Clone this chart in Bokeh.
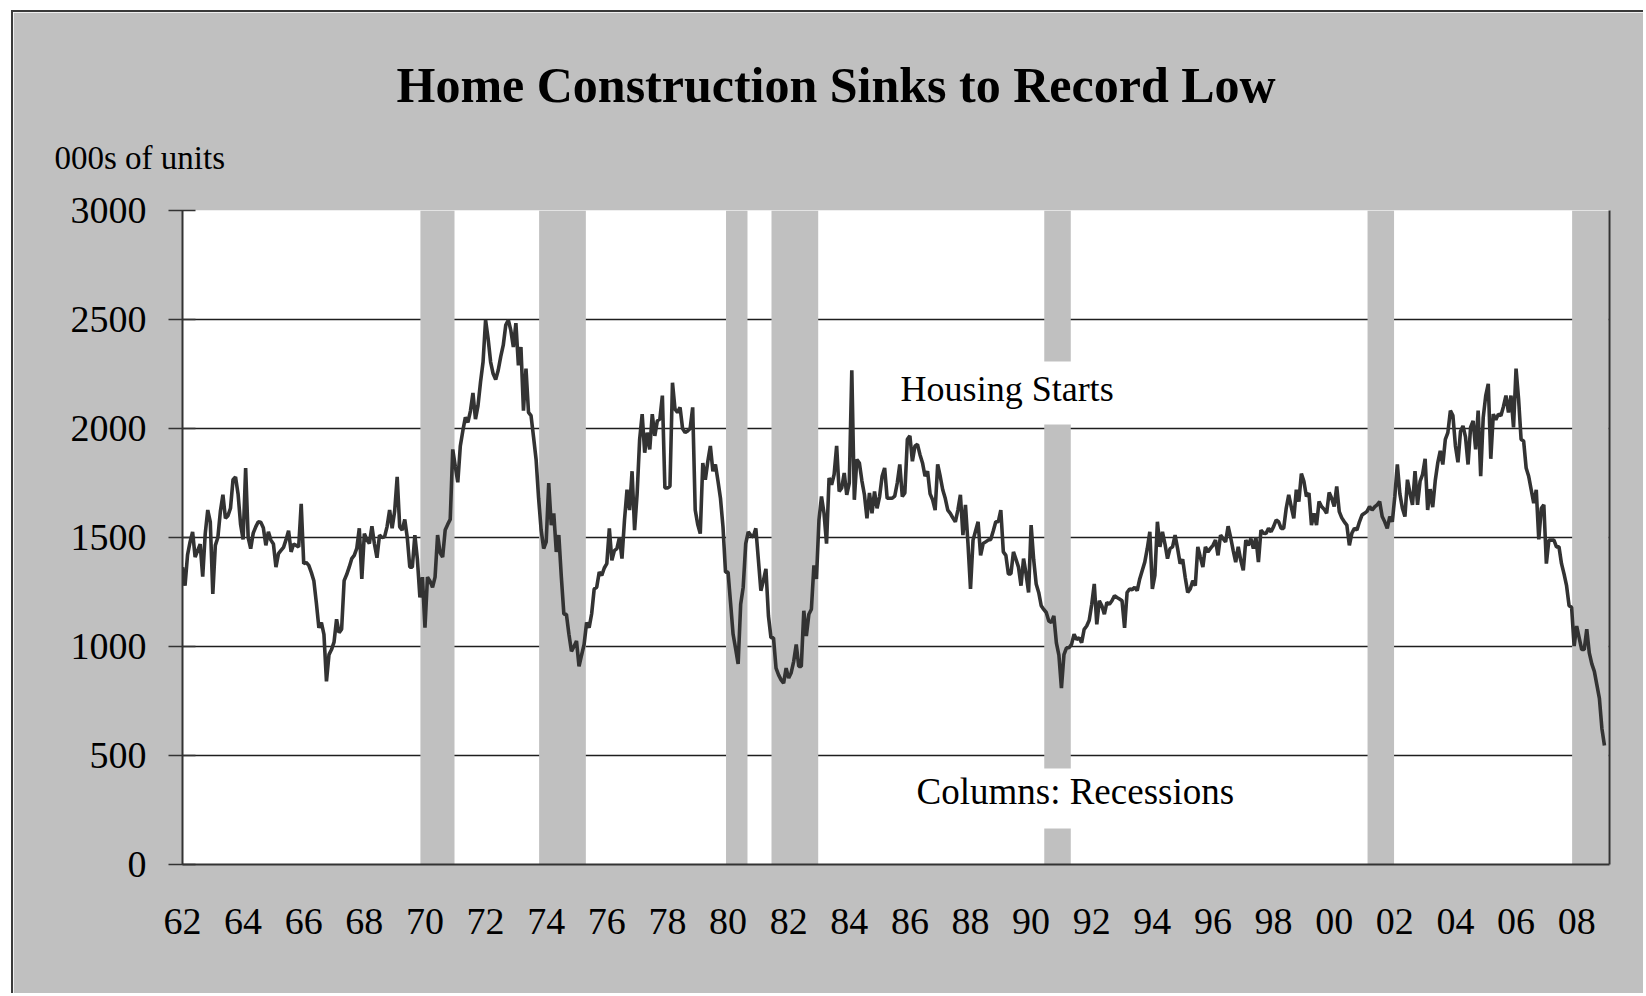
from bokeh.plotting import figure
from bokeh.models import Range1d, FixedTicker, LinearAxis, Label, Title, ColumnDataSource, BoxAnnotation
from bokeh.embed import file_html
from bokeh.resources import INLINE

# ---------------- data ----------------
first_year = 1962
# Housing starts, thousands of units (SAAR), monthly Jan 1962 .. Dec 2008
housing_starts = [
    1364, 1279, 1420, 1480, 1526, 1410, 1440, 1470, 1321, 1518, 1626, 1572,  # 1962
    1241, 1464, 1500, 1620, 1696, 1588, 1600, 1634, 1765, 1778, 1700, 1560,  # 1963
    1491, 1819, 1500, 1449, 1520, 1549, 1572, 1570, 1545, 1464, 1526, 1488,  # 1964
    1470, 1364, 1426, 1441, 1455, 1490, 1531, 1434, 1470, 1464, 1457, 1654,  # 1965
    1380, 1385, 1372, 1340, 1302, 1200, 1086, 1110, 1056, 840, 963, 986,     # 1966
    1020, 1125, 1063, 1079, 1302, 1330, 1364, 1403, 1418, 1450, 1542, 1310,  # 1967
    1518, 1490, 1472, 1552, 1470, 1407, 1511, 1500, 1503, 1550, 1626, 1542,  # 1968
    1620, 1778, 1549, 1534, 1583, 1500, 1364, 1364, 1511, 1400, 1225, 1318,  # 1969
    1086, 1318, 1300, 1272, 1318, 1511, 1430, 1410, 1534, 1560, 1583, 1904,  # 1970
    1827, 1753, 1920, 1990, 2051, 2028, 2080, 2163, 2043, 2105, 2213, 2305,  # 1971
    2498, 2413, 2305, 2251, 2225, 2267, 2330, 2382, 2475, 2498, 2450, 2374,  # 1972
    2483, 2290, 2374, 2082, 2275, 2074, 2059, 1960, 1858, 1680, 1534, 1449,  # 1973
    1480, 1750, 1557, 1611, 1434, 1511, 1318, 1148, 1148, 1056, 978, 1000,   # 1974
    1025, 909, 960, 1009, 1110, 1086, 1150, 1264, 1272, 1341, 1326, 1360,    # 1975
    1380, 1542, 1395, 1440, 1449, 1500, 1403, 1580, 1719, 1626, 1804, 1534,  # 1976
    1700, 1950, 2066, 1889, 1981, 1904, 2066, 1966, 2035, 2043, 2151, 1727,  # 1977
    1727, 1735, 2210, 2089, 2074, 2097, 2000, 1981, 1989, 2000, 2097, 1626,  # 1978
    1560, 1518, 1842, 1765, 1850, 1920, 1804, 1835, 1760, 1680, 1549, 1341,  # 1979
    1341, 1200, 1056, 990, 920, 1194, 1272, 1472, 1526, 1510, 1503, 1542,    # 1980
    1400, 1256, 1302, 1356, 1140, 1040, 1040, 901, 870, 847, 832, 901,       # 1981
    855, 880, 932, 1009, 909, 909, 1164, 1048, 1148, 1171, 1372, 1310,       # 1982
    1580, 1688, 1611, 1472, 1773, 1742, 1789, 1920, 1711, 1727, 1796, 1696,  # 1983
    1750, 2267, 1673, 1858, 1842, 1760, 1696, 1588, 1704, 1611, 1711, 1634,  # 1984
    1688, 1781, 1819, 1680, 1680, 1680, 1690, 1750, 1835, 1688, 1704, 1950,  # 1985
    1966, 1850, 1920, 1927, 1880, 1842, 1781, 1804, 1700, 1673, 1626, 1835,  # 1986
    1781, 1719, 1680, 1626, 1611, 1590, 1572, 1626, 1696, 1511, 1650, 1472,  # 1987
    1264, 1488, 1530, 1572, 1418, 1472, 1480, 1488, 1491, 1530, 1572, 1572,  # 1988
    1626, 1434, 1418, 1333, 1333, 1434, 1400, 1364, 1279, 1403, 1333, 1248,  # 1989
    1557, 1400, 1287, 1248, 1187, 1170, 1156, 1117, 1110, 1140, 1017, 960,   # 1990
    809, 963, 994, 994, 1010, 1056, 1032, 1040, 1017, 1079, 1094, 1120,      # 1991
    1194, 1287, 1102, 1210, 1187, 1148, 1202, 1194, 1210, 1233, 1225, 1218,  # 1992
    1210, 1086, 1248, 1264, 1260, 1272, 1256, 1310, 1349, 1387, 1450, 1526,  # 1993
    1264, 1326, 1572, 1457, 1526, 1470, 1403, 1449, 1457, 1511, 1449, 1380,  # 1994
    1400, 1318, 1248, 1264, 1302, 1279, 1457, 1410, 1364, 1457, 1434, 1450,  # 1995
    1464, 1488, 1418, 1511, 1495, 1480, 1552, 1500, 1441, 1387, 1457, 1395,  # 1996
    1349, 1488, 1464, 1495, 1449, 1500, 1387, 1534, 1520, 1518, 1542, 1526,  # 1997
    1550, 1580, 1572, 1542, 1542, 1634, 1696, 1640, 1588, 1719, 1665, 1793,  # 1998
    1758, 1688, 1704, 1557, 1611, 1557, 1665, 1642, 1630, 1611, 1707, 1680,  # 1999
    1642, 1734, 1619, 1590, 1572, 1557, 1464, 1520, 1542, 1534, 1572, 1603,  # 2000
    1611, 1620, 1642, 1626, 1640, 1650, 1665, 1596, 1572, 1542, 1596, 1572,  # 2001
    1688, 1835, 1700, 1634, 1596, 1765, 1704, 1650, 1804, 1650, 1758, 1790,  # 2002
    1861, 1626, 1722, 1639, 1760, 1842, 1897, 1835, 1950, 1981, 2082, 2059,  # 2003
    1920, 1845, 1986, 2012, 1960, 1835, 2005, 2035, 1904, 2082, 1781, 2050,  # 2004
    2151, 2205, 1861, 2066, 2040, 2066, 2059, 2100, 2151, 2074, 2151, 2005,  # 2005
    2275, 2136, 1950, 1943, 1819, 1781, 1719, 1657, 1719, 1491, 1634, 1650,  # 2006
    1380, 1488, 1488, 1488, 1457, 1457, 1380, 1333, 1279, 1187, 1180, 1002,  # 2007
    1094, 1040, 986, 986, 1079, 971, 920, 886, 824, 762, 623, 546,           # 2008
]

# NBER recessions (peak month, trough month); the last one still ongoing
recession_peaks = ["1969-12", "1973-11", "1980-01", "1981-07", "1990-07", "2001-03", "2007-12"]
recession_troughs = ["1970-11", "1975-03", "1980-07", "1982-11", "1991-03", "2001-11", "2008-12"]

tick_years = list(range(1962, 2009, 2))
y_ticks = [0, 500, 1000, 1500, 2000, 2500, 3000]

title_text = "Home Construction Sinks to Record Low"
unit_text = "000s of units"
series_label = "Housing Starts"
columns_label = "Columns: Recessions"

# ---------------- helpers ----------------
def month_index(ym):
    y, m = ym.split("-")
    return (int(y) - first_year) * 12 + int(m) - 1

x_vals = list(range(len(housing_starts)))
n_months = len(housing_starts) + 1

FONT = "Liberation Serif"
GRAY = "#C0C0C0"
DARK = "#333333"

p = figure(width=1632, height=983, output_backend="svg", toolbar_location=None, title=None,
           x_range=Range1d(0, n_months), y_range=Range1d(0, 3000),
           min_border_left=169, min_border_right=36, min_border_top=198, min_border_bottom=131,
           background_fill_color="white", border_fill_color=GRAY, outline_line_color=None)
p.margin = (10, 0, 0, 11)
p.styles = {"border-left": "2px solid #3a3a3a", "border-top": "2px solid #3a3a3a"}

# recession columns
rec_src = ColumnDataSource(dict(
    left=[month_index(a) - 0.8 for a in recession_peaks],
    right=[min(month_index(b) + 1.7, n_months) for b in recession_troughs],
))
p.quad(left="left", right="right", bottom=0, top=3000, source=rec_src,
       fill_color=GRAY, line_color=None)

# housing starts line
p.line(x_vals, housing_starts, line_color=DARK, line_width=3.6)

# axes
p.xaxis.ticker = FixedTicker(ticks=[(y - first_year) * 12 for y in tick_years])
p.xaxis.major_label_overrides = {(y - first_year) * 12: f"{y % 100:02d}" for y in tick_years}
p.xaxis.major_tick_line_color = None
p.xaxis.minor_tick_line_color = None
p.xaxis.axis_line_color = DARK
p.xaxis.axis_line_width = 2
p.xaxis.major_label_text_font = FONT
p.xaxis.major_label_text_font_size = "38px"
p.xaxis.major_label_text_color = "black"
p.xaxis.major_label_standoff = 38

p.yaxis.ticker = FixedTicker(ticks=y_ticks)
p.yaxis.major_tick_in = 13
p.yaxis.major_tick_out = 14
p.yaxis.major_tick_line_color = DARK
p.yaxis.major_tick_line_width = 1.5
p.yaxis.minor_tick_line_color = None
p.yaxis.axis_line_color = DARK
p.yaxis.axis_line_width = 2
p.yaxis.major_label_text_font = FONT
p.yaxis.major_label_text_font_size = "38px"
p.yaxis.major_label_text_color = "black"
p.yaxis.major_label_standoff = 22

raxis = LinearAxis(ticker=FixedTicker(ticks=[]), major_label_text_font_size="0px",
                   axis_line_color=DARK, axis_line_width=2,
                   major_tick_line_color=None, minor_tick_line_color=None)
p.add_layout(raxis, "right")

p.xgrid.visible = False
p.ygrid.ticker = FixedTicker(ticks=y_ticks)
p.ygrid.grid_line_color = "#1e1e1e"
p.ygrid.grid_line_width = 1.3

# titles stacked above the frame (first added = closest to the frame)
p.add_layout(Title(text=" ", text_font_size="1px", standoff=32), "above")
p.add_layout(Title(text=unit_text, align="left", offset=-128, standoff=0,
                   text_font=FONT, text_font_size="33px", text_font_style="normal",
                   text_color="black"), "above")
p.add_layout(Title(text=title_text, align="left", offset=214, standoff=50,
                   text_font=FONT, text_font_size="50px", text_font_style="bold",
                   text_color="black"), "above")

# white boxes behind the in-plot labels (they interrupt the 1990-91 column)
p.add_layout(BoxAnnotation(left=275, right=378, bottom=2018, top=2307,
                           fill_color="white", fill_alpha=1.0, line_color=None))
p.add_layout(BoxAnnotation(left=287, right=420, bottom=165, top=440,
                           fill_color="white", fill_alpha=1.0, line_color=None))

# in-plot labels
p.add_layout(Label(x=326.5, y=2179, text=series_label, text_font=FONT, text_font_size="36px",
                   text_align="center", text_baseline="alphabetic", text_color="black"))
p.add_layout(Label(x=353.5, y=333, text=columns_label, text_font=FONT, text_font_size="37px",
                   text_align="center", text_baseline="alphabetic", text_color="black"))

open("out.html", "w").write(file_html(p, INLINE))
